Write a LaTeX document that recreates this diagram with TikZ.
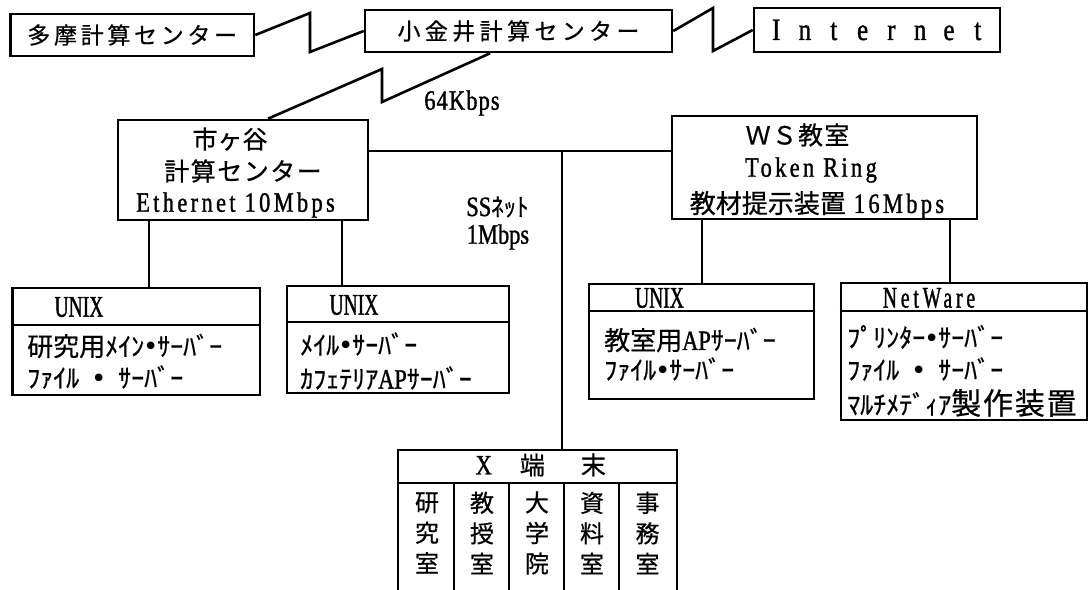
\documentclass[tikz,border=0pt]{standalone}
\usepackage{fontspec}
\newfontfamily\jp[FakeBold=0.6]{Noto Sans CJK JP}
\newfontfamily\la[FakeStretch=0.8,FakeBold=1.2]{Liberation Serif}
\newfontfamily\lc[FakeStretch=0.65,FakeBold=1.2]{Liberation Serif}
\newfontfamily\dv{DejaVu Sans}
\newcommand\fs[1]{\fontsize{#1}{#1}\selectfont}
\newcommand\bu{\makebox[0.5em]{\dv •}}
\newcommand\cell[1]{\makebox[28.8pt]{#1}}
\tikzset{
  ln/.style={line width=2.6pt, line join=miter},
  box/.style={draw, line width=2.6pt, inner sep=0pt},
  txt/.style={inner sep=0pt},
  lt/.style={inner sep=0pt, anchor=west}
}
\begin{document}
\begin{tikzpicture}[x=1pt,y=-1pt]
\useasboundingbox (0,0) rectangle (1092,589);

% top row
\node[box, minimum width=243.5pt, minimum height=42pt] (tama) at (132.25,35)
  {\jp\fs{23}\addfontfeature{LetterSpace=16}多摩計算センター};
\node[box, minimum width=307pt, minimum height=42pt] (koga) at (518.5,31)
  {\jp\fs{23}\addfontfeature{LetterSpace=19}小金井計算センター};
\node[box, minimum width=246pt, minimum height=44pt] (inet) at (877,30)
  {\la\fs{31}\cell{I}\cell{n}\cell{t}\cell{e}\cell{r}\cell{n}\cell{e}\cell{t}};

\draw[ln] (tama.east) -- (310,13) -- (310,52) -- (koga.west);
\draw[ln] (koga.east) -- (713,8) -- (713,51) -- (inet.west);

% Ichigaya
\node[box, minimum width=250pt, minimum height=100pt] (ichi) at (243,170) {};
\node[txt] (ichi1) at (230,139) {\jp\fs{25}市ヶ谷};
\node[txt] (ichi2) at (243,171) {\jp\fs{25}\addfontfeature{LetterSpace=6}計算センター};
\node[txt] (ichi3) at (235.5,205) {\la\fs{28}\addfontfeature{LetterSpace=12}Ethernet 10Mbps};

\draw[ln] ([xshift=-28.5pt]koga.south) -- (382,102) -- (382,69) -- ([xshift=25pt]ichi.north);
\node[txt] (k64) at (462,103) {\la\fs{28}\addfontfeature{LetterSpace=4}64Kbps};

% WS room
\node[box, minimum width=305pt, minimum height=103pt] (ws) at (824.5,167.5) {};
\node[txt] (ws1) at (797.5,135) {\jp\fs{25}\addfontfeature{LetterSpace=5}ＷＳ教室};
\node[txt] (ws2) at (811,170) {\la\fs{28}\addfontfeature{LetterSpace=12}Token Ring};
\node[txt] (ws3) at (817,205) {{\jp\fs{26}教材提示装置}\hspace{8pt}{\la\fs{28}\addfontfeature{LetterSpace=12}16Mbps}};

% backbone
\coordinate (bb) at ([yshift=19pt]ichi.east);
\draw[ln] (bb) -- (bb -| ws.west);
\coordinate (ssj) at (562,151);

\node[txt] (ss1) at (497.5,207) {{\la\fs{28}SS}{\jp\fs{25}ﾈｯﾄ}};
\node[txt] (ss2) at (498,237) {\la\fs{28}1Mbps};

% server boxes
\node[box, minimum width=247.5pt, minimum height=107pt] (u1) at (136.25,341.5) {};
\draw[ln] (u1.west |- 0,325) -- (u1.east |- 0,325);
\node[txt] (u1a) at (79,307) {\lc\fs{30}UNIX};
\node[lt] (u1b) at (27,346) {\jp\fs{26}研究用ﾒｲﾝ\bu ｻｰﾊﾞｰ};
\node[lt] (u1c) at (27,377) {\jp\fs{26}ﾌｧｲﾙ\hspace{0.5em}\bu\hspace{0.5em}ｻｰﾊﾞｰ};

\node[box, minimum width=222pt, minimum height=107pt] (u2) at (398,339.5) {};
\draw[ln] (u2.west |- 0,322) -- (u2.east |- 0,322);
\node[txt] (u2a) at (354,305) {\lc\fs{30}UNIX};
\node[lt] (u2b) at (300,344) {\jp\fs{26}ﾒｲﾙ\bu ｻｰﾊﾞｰ};
\node[lt] (u2c) at (300,378) {{\jp\fs{26}ｶﾌｪﾃﾘｱ}{\la\fs{28}AP}{\jp\fs{26}ｻｰﾊﾞｰ}};

\node[box, minimum width=225pt, minimum height=115pt] (u3) at (701.5,341.5) {};
\draw[ln] (u3.west |- 0,311) -- (u3.east |- 0,311);
\node[txt] (u3a) at (659.5,298) {\lc\fs{30}UNIX};
\node[lt] (u3b) at (604,340) {{\jp\fs{26}教室用}{\la\fs{28}AP}{\jp\fs{26}ｻｰﾊﾞｰ}};
\node[lt] (u3c) at (604,369) {\jp\fs{26}ﾌｧｲﾙ\bu ｻｰﾊﾞｰ};

\node[box, minimum width=246pt, minimum height=137pt] (nw) at (964,351.5) {};
\draw[ln] (nw.west |- 0,311) -- (nw.east |- 0,311);
\node[txt] (nwa) at (929,298) {\lc\fs{30}\addfontfeature{LetterSpace=13}NetWare};
\node[lt] (nwb) at (847,337) {\jp\fs{26}ﾌﾟﾘﾝﾀｰ\bu ｻｰﾊﾞｰ};
\node[lt] (nwc) at (847,369) {\jp\fs{26}ﾌｧｲﾙ\hspace{0.5em}\bu\hspace{0.5em}ｻｰﾊﾞｰ};
\node[lt] (nwd) at (847,403) {{\jp\fs{26}ﾏﾙﾁﾒﾃﾞｨｱ}{\jp\fs{30}\addfontfeature{LetterSpace=6}製作装置}};

% drops
\draw[ln] ([xshift=-94pt]ichi.south) -- ([xshift=-94pt]ichi.south |- u1.north);
\draw[ln] ([xshift=99pt]ichi.south) -- ([xshift=99pt]ichi.south |- u2.north);
\draw[ln] ([xshift=-122.5pt]ws.south) -- ([xshift=-122.5pt]ws.south |- u3.north);
\draw[ln] ([xshift=125.5pt]ws.south) -- ([xshift=125.5pt]ws.south |- nw.north);

% X terminals
\node[box, minimum width=279pt, minimum height=33pt] (xh) at (537.5,466.5) {};
\draw[ln] (ssj) -- (ssj |- xh.north);
\node[lt] (xht) at (475.5,465) {{\la\fs{28}X}\hspace{28pt}{\jp\fs{25}端}\hspace{36pt}{\jp\fs{25}末}};
\foreach \xx in {398,454,509,564,619,677} {
  \draw[ln] (\xx,483) -- (\xx,590);
}
\node[txt, align=center, font=\jp\fontsize{24}{30.5}\selectfont] (c1) at (427,533) {研\\究\\室};
\node[txt, align=center, font=\jp\fontsize{24}{30.5}\selectfont] (c2) at (482,533) {教\\授\\室};
\node[txt, align=center, font=\jp\fontsize{24}{30.5}\selectfont] (c3) at (537,533) {大\\学\\院};
\node[txt, align=center, font=\jp\fontsize{24}{30.5}\selectfont] (c4) at (592,533) {資\\料\\室};
\node[txt, align=center, font=\jp\fontsize{24}{30.5}\selectfont] (c5) at (647.5,533) {事\\務\\室};
\end{tikzpicture}
\end{document}
